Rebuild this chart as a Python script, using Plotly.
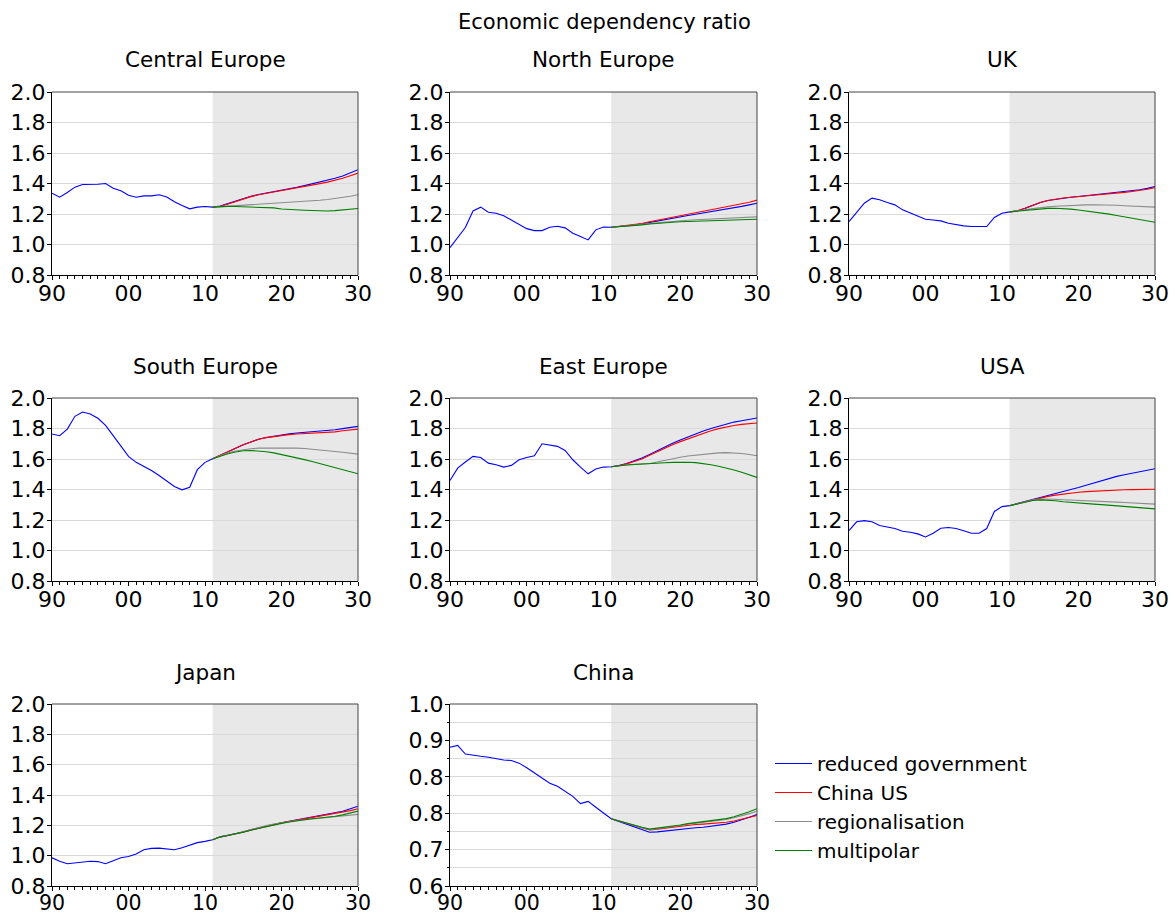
import plotly.graph_objects as go

# ---- data -------------------------------------------------------------
HIST_YEARS = list(range(1990, 2012))   # observed 1990-2011
PROJ_YEARS = list(range(2011, 2031))   # scenarios 2011-2030
ALL_YEARS = list(range(1990, 2031))

SCENARIOS = ["reduced government", "China US", "regionalisation", "multipolar"]
COLORS = ["#0000ff", "#ff0000", "#8c8c8c", "#008000"]

X_TICK_VALS = [1990, 2000, 2010, 2020, 2030]
X_TICK_TEXT = ["90", "00", "10", "20", "30"]

Y_TICK_VALS = [0.8, 1.0, 1.2, 1.4, 1.6, 1.8, 2.0]
Y_TICK_TEXT = ["0.8", "1.0", "1.2", "1.4", "1.6", "1.8", "2.0"]

CHINA_Y_TICK_VALS = [0.60, 0.68, 0.76, 0.84, 0.92, 1.00]
CHINA_Y_TICK_TEXT = ["0.6", "0.7", "0.8", "0.8", "0.9", "1.0"]
CHINA_Y_MINOR = [0.64, 0.72, 0.80, 0.88, 0.96]

# Central Europe
ce_hist = [1.337, 1.310, 1.341, 1.376, 1.393, 1.393, 1.395, 1.400, 1.369, 1.352, 1.323,
           1.310, 1.319, 1.319, 1.326, 1.312, 1.280, 1.256, 1.234, 1.245, 1.249, 1.245]
ce_reduced = [1.245, 1.252, 1.268, 1.285, 1.302, 1.316, 1.328, 1.337, 1.345, 1.354,
              1.364, 1.375, 1.386, 1.397, 1.408, 1.420, 1.434, 1.449, 1.468, 1.490]
ce_chinaus = [1.245, 1.251, 1.266, 1.283, 1.300, 1.314, 1.326, 1.335, 1.343, 1.350,
              1.359, 1.369, 1.379, 1.389, 1.399, 1.409, 1.421, 1.435, 1.451, 1.468]
ce_regional = [1.245, 1.248, 1.251, 1.254, 1.257, 1.260, 1.263, 1.266, 1.268, 1.271,
               1.274, 1.278, 1.282, 1.286, 1.290, 1.295, 1.301, 1.308, 1.316, 1.326]
ce_multipolar = [1.245, 1.248, 1.250, 1.249, 1.247, 1.246, 1.245, 1.243, 1.240, 1.233,
                 1.229, 1.227, 1.225, 1.223, 1.221, 1.220, 1.222, 1.226, 1.230, 1.236]

# North Europe
ne_hist = [0.980, 1.045, 1.111, 1.220, 1.245, 1.212, 1.205, 1.188, 1.161, 1.133, 1.104,
           1.091, 1.091, 1.113, 1.120, 1.109, 1.074, 1.052, 1.030, 1.096, 1.115, 1.113]
ne_reduced = [1.113, 1.117, 1.121, 1.127, 1.135, 1.145, 1.155, 1.164, 1.173, 1.182,
              1.190, 1.198, 1.206, 1.214, 1.222, 1.231, 1.240, 1.250, 1.260, 1.271]
ne_chinaus = [1.113, 1.118, 1.123, 1.129, 1.138, 1.149, 1.159, 1.169, 1.179, 1.189,
              1.199, 1.208, 1.217, 1.226, 1.235, 1.245, 1.255, 1.265, 1.277, 1.291]
ne_regional = [1.113, 1.117, 1.121, 1.126, 1.131, 1.137, 1.142, 1.147, 1.152, 1.156,
               1.159, 1.162, 1.165, 1.168, 1.171, 1.173, 1.175, 1.177, 1.179, 1.181]
ne_multipolar = [1.113, 1.116, 1.120, 1.124, 1.129, 1.134, 1.139, 1.143, 1.146, 1.149,
                 1.151, 1.153, 1.155, 1.157, 1.159, 1.160, 1.161, 1.162, 1.164, 1.166]

# UK
uk_hist = [1.150, 1.210, 1.271, 1.304, 1.293, 1.275, 1.260, 1.227, 1.205, 1.183, 1.166,
           1.161, 1.155, 1.139, 1.129, 1.122, 1.118, 1.118, 1.118, 1.177, 1.205, 1.214]
uk_reduced = [1.214, 1.220, 1.237, 1.256, 1.275, 1.288, 1.297, 1.304, 1.310, 1.315,
              1.320, 1.325, 1.330, 1.335, 1.340, 1.346, 1.352, 1.359, 1.368, 1.380]
uk_chinaus = [1.214, 1.221, 1.238, 1.257, 1.276, 1.289, 1.298, 1.305, 1.310, 1.314,
              1.319, 1.323, 1.328, 1.332, 1.337, 1.342, 1.348, 1.354, 1.362, 1.373]
uk_regional = [1.214, 1.219, 1.227, 1.235, 1.242, 1.247, 1.251, 1.254, 1.256, 1.258,
               1.260, 1.261, 1.261, 1.260, 1.257, 1.254, 1.252, 1.250, 1.248, 1.245]
uk_multipolar = [1.214, 1.219, 1.225, 1.230, 1.234, 1.237, 1.238, 1.236, 1.232, 1.226,
                 1.220, 1.214, 1.207, 1.199, 1.190, 1.181, 1.173, 1.165, 1.156, 1.146]

# South Europe
se_hist = [1.764, 1.753, 1.796, 1.880, 1.908, 1.895, 1.867, 1.821, 1.753, 1.683, 1.617,
           1.578, 1.551, 1.525, 1.492, 1.457, 1.420, 1.398, 1.415, 1.530, 1.578, 1.601]
se_reduced = [1.601, 1.624, 1.650, 1.673, 1.693, 1.712, 1.730, 1.741, 1.750, 1.759,
              1.765, 1.770, 1.774, 1.778, 1.782, 1.786, 1.792, 1.799, 1.806, 1.814]
se_chinaus = [1.601, 1.624, 1.650, 1.673, 1.693, 1.712, 1.729, 1.740, 1.748, 1.755,
              1.760, 1.764, 1.767, 1.769, 1.771, 1.773, 1.778, 1.785, 1.791, 1.796]
se_regional = [1.601, 1.620, 1.640, 1.652, 1.661, 1.667, 1.671, 1.672, 1.673, 1.673,
               1.672, 1.671, 1.669, 1.665, 1.660, 1.654, 1.649, 1.644, 1.638, 1.632]
se_multipolar = [1.601, 1.618, 1.634, 1.646, 1.654, 1.656, 1.654, 1.648, 1.640, 1.630,
                 1.620, 1.609, 1.596, 1.583, 1.570, 1.557, 1.545, 1.531, 1.517, 1.503]

# East Europe
ee_hist = [1.459, 1.540, 1.580, 1.617, 1.610, 1.573, 1.562, 1.547, 1.558, 1.595, 1.610,
           1.621, 1.700, 1.694, 1.683, 1.656, 1.595, 1.547, 1.503, 1.534, 1.547, 1.549]
ee_reduced = [1.549, 1.557, 1.570, 1.586, 1.606, 1.630, 1.655, 1.680, 1.703, 1.724,
              1.745, 1.765, 1.784, 1.800, 1.815, 1.830, 1.842, 1.851, 1.860, 1.869]
ee_chinaus = [1.549, 1.556, 1.568, 1.583, 1.600, 1.624, 1.648, 1.672, 1.694, 1.714,
              1.733, 1.752, 1.770, 1.785, 1.799, 1.811, 1.820, 1.827, 1.832, 1.836]
ee_regional = [1.549, 1.556, 1.561, 1.565, 1.568, 1.570, 1.580, 1.592, 1.603, 1.612,
               1.620, 1.626, 1.631, 1.636, 1.640, 1.642, 1.641, 1.636, 1.629, 1.621]
ee_multipolar = [1.549, 1.556, 1.561, 1.564, 1.566, 1.567, 1.570, 1.575, 1.578, 1.580,
                 1.579, 1.576, 1.570, 1.562, 1.552, 1.541, 1.528, 1.513, 1.497, 1.479]

# USA
us_hist = [1.131, 1.188, 1.196, 1.188, 1.164, 1.153, 1.144, 1.126, 1.120, 1.109, 1.089,
           1.113, 1.146, 1.151, 1.144, 1.129, 1.113, 1.113, 1.144, 1.256, 1.288, 1.294]
us_reduced = [1.294, 1.306, 1.320, 1.335, 1.348, 1.360, 1.373, 1.386, 1.400, 1.413,
              1.428, 1.443, 1.458, 1.472, 1.486, 1.497, 1.506, 1.515, 1.525, 1.536]
us_chinaus = [1.294, 1.306, 1.320, 1.333, 1.345, 1.355, 1.363, 1.370, 1.377, 1.382,
              1.386, 1.389, 1.392, 1.394, 1.396, 1.398, 1.399, 1.400, 1.401, 1.402]
us_regional = [1.294, 1.306, 1.320, 1.331, 1.337, 1.338, 1.336, 1.333, 1.330, 1.328,
               1.326, 1.324, 1.322, 1.320, 1.317, 1.315, 1.312, 1.310, 1.307, 1.304]
us_multipolar = [1.294, 1.305, 1.318, 1.328, 1.332, 1.331, 1.326, 1.320, 1.315, 1.310,
                 1.307, 1.304, 1.301, 1.297, 1.293, 1.289, 1.285, 1.281, 1.277, 1.273]

# Japan
jp_hist = [0.986, 0.963, 0.947, 0.951, 0.958, 0.963, 0.961, 0.947, 0.967, 0.986, 0.995,
           1.011, 1.039, 1.048, 1.050, 1.046, 1.039, 1.052, 1.068, 1.086, 1.094, 1.105]
jp_reduced = [1.105, 1.124, 1.133, 1.142, 1.156, 1.170, 1.183, 1.195, 1.206, 1.217,
              1.227, 1.236, 1.245, 1.254, 1.263, 1.272, 1.282, 1.293, 1.309, 1.326]
jp_chinaus = [1.105, 1.124, 1.133, 1.142, 1.156, 1.170, 1.183, 1.195, 1.206, 1.216,
              1.225, 1.234, 1.242, 1.250, 1.258, 1.266, 1.275, 1.285, 1.297, 1.309]
jp_regional = [1.105, 1.124, 1.134, 1.144, 1.159, 1.173, 1.186, 1.198, 1.209, 1.218,
               1.226, 1.232, 1.237, 1.242, 1.246, 1.250, 1.254, 1.259, 1.265, 1.272]
jp_multipolar = [1.105, 1.124, 1.133, 1.142, 1.155, 1.168, 1.180, 1.192, 1.203, 1.213,
                 1.222, 1.230, 1.237, 1.243, 1.248, 1.253, 1.260, 1.269, 1.281, 1.294]

# China
cn_hist = [0.905, 0.909, 0.890, 0.887, 0.885, 0.883, 0.880, 0.877, 0.876, 0.870, 0.860,
           0.849, 0.837, 0.826, 0.819, 0.808, 0.797, 0.781, 0.786, 0.773, 0.761, 0.748]
cn_reduced = [0.748, 0.742, 0.736, 0.730, 0.724, 0.718, 0.719, 0.721, 0.723, 0.725,
              0.727, 0.728, 0.729, 0.731, 0.733, 0.736, 0.740, 0.745, 0.751, 0.757]
cn_chinaus = [0.748, 0.743, 0.738, 0.733, 0.728, 0.723, 0.725, 0.727, 0.729, 0.731,
              0.734, 0.735, 0.736, 0.737, 0.738, 0.740, 0.743, 0.747, 0.751, 0.755]
cn_regional = [0.748, 0.743, 0.738, 0.733, 0.729, 0.724, 0.726, 0.728, 0.730, 0.733,
               0.736, 0.738, 0.740, 0.742, 0.744, 0.746, 0.750, 0.754, 0.759, 0.765]
cn_multipolar = [0.748, 0.743, 0.739, 0.734, 0.729, 0.725, 0.727, 0.729, 0.731, 0.734,
                 0.737, 0.739, 0.741, 0.743, 0.745, 0.748, 0.752, 0.757, 0.763, 0.770]

PANELS = [
    ("Central Europe", ce_hist, [ce_reduced, ce_chinaus, ce_regional, ce_multipolar]),
    ("North Europe", ne_hist, [ne_reduced, ne_chinaus, ne_regional, ne_multipolar]),
    ("UK", uk_hist, [uk_reduced, uk_chinaus, uk_regional, uk_multipolar]),
    ("South Europe", se_hist, [se_reduced, se_chinaus, se_regional, se_multipolar]),
    ("East Europe", ee_hist, [ee_reduced, ee_chinaus, ee_regional, ee_multipolar]),
    ("USA", us_hist, [us_reduced, us_chinaus, us_regional, us_multipolar]),
    ("Japan", jp_hist, [jp_reduced, jp_chinaus, jp_regional, jp_multipolar]),
    ("China", cn_hist, [cn_reduced, cn_chinaus, cn_regional, cn_multipolar]),
]

# ---- layout geometry (pixels) ----------------------------------------
W, H = 1175, 915
COL_X = [(52, 358), (450, 757), (849, 1155)]
ROW_Y = [(92, 275), (398, 581), (704, 886)]
FONT = "DejaVu Sans, Liberation Sans, Arial, sans-serif"
GRID = "#dadada"
SHADE = "#e8e8e8"

fig = go.Figure()
shapes = []
annotations = [dict(text="Economic dependency ratio", x=604 / W, y=1 - 22 / H,
                    xref="paper", yref="paper", xanchor="center", yanchor="middle",
                    showarrow=False, font=dict(size=21, family=FONT, color="black"))]

for i, (name, hist, scen) in enumerate(PANELS):
    r, c = divmod(i, 3)
    x0, x1 = COL_X[c]
    y0, y1 = ROW_Y[r]
    n = i + 1
    xa = "x" if n == 1 else f"x{n}"
    ya = "y" if n == 1 else f"y{n}"
    xkey = "xaxis" if n == 1 else f"xaxis{n}"
    ykey = "yaxis" if n == 1 else f"yaxis{n}"

    is_china = name == "China"
    bottom_row = r == 2
    fig.update_layout({
        xkey: dict(domain=[x0 / W, x1 / W], anchor=ya, range=[1990, 2030],
                   automargin=False,
                   tickmode="array", tickvals=X_TICK_VALS, ticktext=X_TICK_TEXT,
                   ticks="outside", ticklen=4, tickcolor="black", tickwidth=1,
                   ticklabelstandoff=-6 if bottom_row else -5,
                   showline=True, linecolor="black", linewidth=1, showgrid=False,
                   zeroline=False, fixedrange=True,
                   tickfont=dict(size=20.5 if bottom_row else 22, family=FONT,
                                 color="black"),
                   minor=dict(tickvals=ALL_YEARS, ticks="outside", ticklen=3,
                              tickcolor="black", showgrid=False)),
        ykey: dict(domain=[1 - y1 / H, 1 - y0 / H], anchor=xa,
                   automargin=False,
                   range=[0.6, 1.0] if is_china else [0.8, 2.0],
                   tickmode="array",
                   tickvals=CHINA_Y_TICK_VALS if is_china else Y_TICK_VALS,
                   ticktext=CHINA_Y_TICK_TEXT if is_china else Y_TICK_TEXT,
                   ticks="outside", ticklen=4, tickcolor="black", tickwidth=1,
                   ticklabelstandoff=-3,
                   showline=True, linecolor="black", linewidth=1,
                   showgrid=True, gridcolor=GRID, gridwidth=1, zeroline=False,
                   fixedrange=True,
                   tickfont=dict(size=22, family=FONT, color="black"),
                   minor=(dict(tickvals=CHINA_Y_MINOR, ticks="outside", ticklen=2,
                               tickcolor="black", showgrid=True, gridcolor=GRID)
                          if is_china else None)),
    })

    # forecast period shading
    shapes.append(dict(type="rect", xref=xa, yref=f"{ya} domain", x0=2011, x1=2030,
                       y0=0, y1=1, fillcolor=SHADE, line=dict(width=0), layer="below"))
    # top and right frame edges
    shapes.append(dict(type="line", xref=f"{xa} domain", yref=f"{ya} domain",
                       x0=0, x1=1, y0=1, y1=1, line=dict(color="#444444", width=1),
                       layer="above"))
    shapes.append(dict(type="line", xref=f"{xa} domain", yref=f"{ya} domain",
                       x0=1, x1=1, y0=0, y1=1, line=dict(color="#444444", width=1),
                       layer="above"))

    annotations.append(dict(text=name, x=(x0 + x1) / 2 / W, y=1 - (y0 - 32) / H,
                            xref="paper", yref="paper", xanchor="center",
                            yanchor="middle", showarrow=False,
                            font=dict(size=21.5, family=FONT, color="black")))

    for k, (label, color, vals) in enumerate(zip(SCENARIOS, COLORS, scen)):
        if k == 0:
            xs = HIST_YEARS + PROJ_YEARS[1:]
            ys = hist + vals[1:]
        else:
            xs = PROJ_YEARS
            ys = vals
        fig.add_trace(go.Scatter(x=xs, y=ys, mode="lines", name=label,
                                 line=dict(color=color, width=1.1),
                                 showlegend=(i == 0),
                                 xaxis=xa, yaxis=ya, hoverinfo="skip"))

fig.update_layout(
    template="none",
    width=W, height=H,
    margin=dict(l=0, r=0, t=0, b=0, autoexpand=False),
    paper_bgcolor="white", plot_bgcolor="white",
    font=dict(family=FONT, color="black"),
    shapes=shapes, annotations=annotations,
    legend=dict(x=770 / W, y=1 - 744 / H, xanchor="left", yanchor="top",
                bgcolor="rgba(0,0,0,0)", borderwidth=0, itemwidth=37,
                traceorder="normal",
                font=dict(size=20, family=FONT, color="black")),
)

fig.write_html("out.html")
